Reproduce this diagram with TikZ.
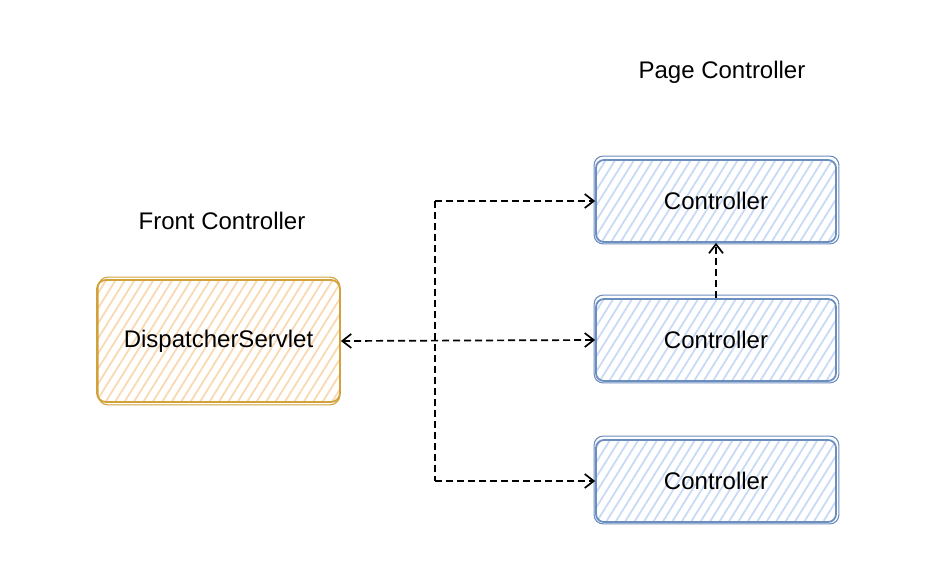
\documentclass[tikz,border=0pt]{standalone}
\usepackage{fontspec}
\setmainfont{Liberation Sans}
\usetikzlibrary{arrows.meta,patterns.meta,calc}
\definecolor{orst}{HTML}{D3A13A}
\definecolor{orfill}{HTML}{F9D9B2}
\definecolor{blst}{HTML}{6C8EBF}
\definecolor{blfill}{HTML}{C9DAF4}
\begin{document}
\begin{tikzpicture}[x=1pt,y=-1pt,
  txt/.style={font=\fontsize{24}{27}\selectfont},
  obox/.style={txt, rounded corners=9pt, draw=orst, line width=1.8pt,
    minimum width=243pt, minimum height=122pt,
    pattern={Lines[angle=58,distance=8pt,line width=1.8pt]}, pattern color=orfill},
  bbox/.style={txt, rounded corners=8pt, draw=blst, line width=1.8pt,
    minimum width=240pt, minimum height=82pt,
    pattern={Lines[angle=58,distance=8pt,line width=1.8pt]}, pattern color=blfill},
  conn/.style={draw=black, line width=1.7pt, dash pattern=on 7pt off 4pt},
  barb/.tip={Straight Barb[length=9pt,width=14pt,line width=1.7pt]},
  tip/.style={-barb}]
\useasboundingbox (0,0) rectangle (926,586);
\node[obox] (ds) at (218.5,341) {DispatcherServlet};
\node[bbox] (c1) at (716,201) {Controller};
\node[bbox] (c2) at (716,340) {Controller};
\node[bbox] (c3) at (716,481) {Controller};
% sketchy second outlines
\draw[orst, line width=1.1pt, rounded corners=10pt] ($(ds.north west)+(2,-2)$) rectangle ($(ds.south east)+(-1,2)$);
\foreach \c in {c1,c2,c3}
  \draw[blst, line width=1.1pt, rounded corners=9pt] ($(\c.north west)+(-1,-3)$) rectangle ($(\c.south east)+(2,1)$);
\node[txt] (fc) at (222,221) {Front Controller};
\node[txt] (pc) at (722,72) {Page Controller};
\coordinate (j) at (435,341);
\draw[conn, barb-barb] (ds.east) -- (c2.west);
\draw[conn] (j |- c1.west) -- (j |- c3.west);
\draw[conn, tip] (j |- c1.west) -- (c1.west);
\draw[conn, tip] (j |- c3.west) -- (c3.west);
\draw[conn, tip] (c2.north) -- (c1.south);
\end{tikzpicture}
\end{document}
